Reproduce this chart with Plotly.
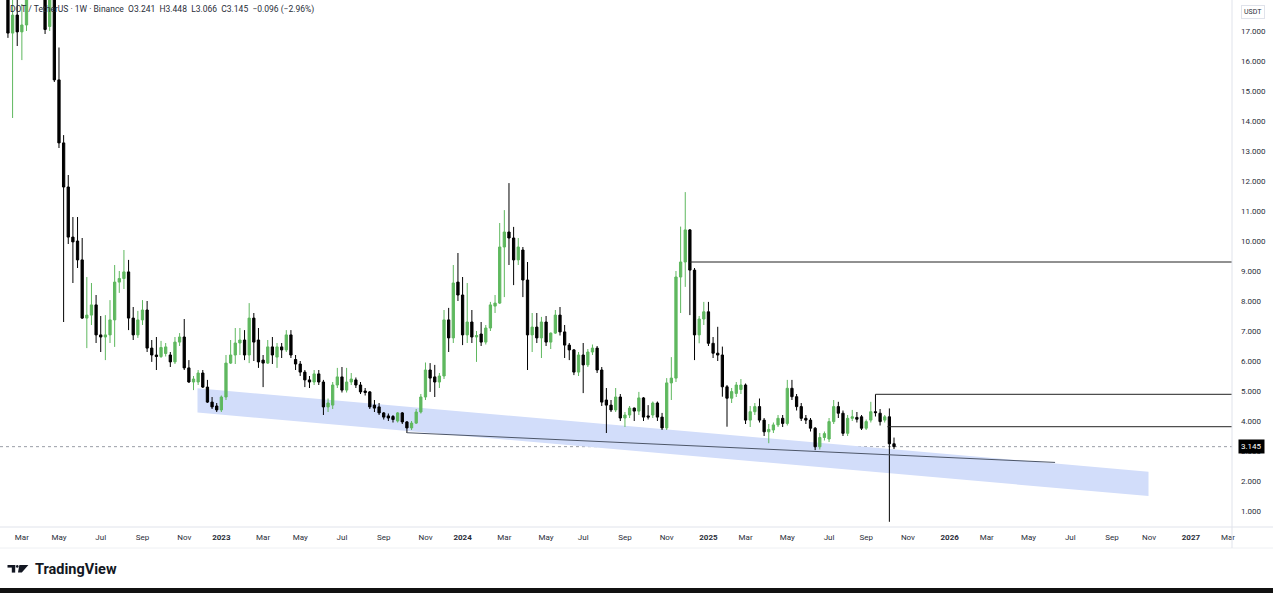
import plotly.graph_objects as go
import pandas as pd

# ---------------- data ----------------
open_ = [19.4, 16.93, 17.53, 16.97, 17.2, 19.2, 21.3, 21.1, 19.3, 17.15,
         18.4, 15.37, 13.27, 11.8, 10.13, 10.0, 9.37, 7.43, 7.53, 7.87,
         6.87, 6.8, 6.87, 7.37, 8.63, 8.75, 8.97, 7.43, 6.87, 7.37,
         7.7, 6.43, 6.2, 6.15, 6.25, 6.2, 5.97, 6.63, 6.8, 5.77,
         5.3, 5.3, 5.6, 5.13, 4.63, 4.5, 4.37, 4.8, 5.93, 6.2,
         6.6, 6.7, 6.2, 7.43, 6.7, 6.03, 5.93, 6.47, 6.13, 6.47,
         6.37, 6.87, 6.05, 5.9, 5.63, 5.37, 5.3, 5.57, 5.3, 4.47,
         4.53, 5.2, 5.47, 5.03, 5.3, 5.37, 5.2, 5.0, 4.97, 4.53,
         4.47, 4.27, 4.17, 4.15, 4.0, 4.27, 3.97, 3.77, 3.93, 4.3,
         4.8, 5.7, 5.47, 5.3, 5.5, 7.37, 6.77, 8.63, 8.2, 6.87,
         7.3, 6.8, 6.9, 6.63, 7.1, 7.83, 7.93, 9.8, 10.3, 10.1,
         9.37, 9.7, 8.7, 6.87, 7.13, 6.77, 7.3, 6.63, 6.93, 7.53,
         6.97, 6.53, 6.37, 5.63, 6.2, 5.87, 6.3, 6.43, 5.7, 4.7,
         4.53, 4.37, 4.8, 4.1, 4.2, 4.43, 4.33, 4.77, 4.17, 4.2,
         4.6, 4.13, 3.77, 5.27, 5.43, 8.8, 9.3, 10.37, 9.03, 6.87,
         7.4, 7.64, 6.59, 6.26, 6.2, 5.14, 4.76, 4.92, 5.05, 5.2,
         4.03, 4.31, 4.48, 4.03, 3.64, 3.7, 3.87, 4.09, 3.92, 5.09,
         4.81, 4.48, 4.09, 4.03, 3.76, 3.14, 3.45, 3.4, 3.98, 4.48,
         4.26, 3.59, 4.09, 4.12, 4.14, 3.76, 4.03, 4.31, 4.26, 4.03,
         4.14, 3.241]
high = [20.2, 18.4, 18.2, 17.9, 19.6, 21.8, 23.4, 21.5, 19.6, 18.8,
        18.6, 16.45, 13.53, 12.2, 10.8, 10.8, 10.1, 8.8, 8.6, 8.2,
        7.5, 7.53, 8.03, 9.2, 9.0, 9.7, 9.37, 7.8, 7.67, 8.03,
        8.0, 6.7, 6.8, 6.67, 6.6, 6.3, 6.8, 6.93, 7.4, 6.03,
        5.5, 5.7, 5.7, 5.37, 4.8, 4.6, 4.85, 6.2, 6.7, 7.1,
        7.1, 7.03, 7.93, 7.6, 7.1, 6.2, 6.7, 6.8, 6.6, 6.6,
        7.03, 7.03, 6.2, 6.0, 5.7, 5.5, 5.7, 5.7, 5.37, 4.75,
        5.3, 5.77, 5.8, 5.77, 5.6, 5.45, 5.3, 5.1, 5.0, 4.7,
        4.6, 4.3, 4.25, 4.2, 4.3, 4.3, 4.0, 4.0, 4.4, 4.9,
        5.95, 5.93, 5.87, 5.6, 7.7, 7.77, 9.2, 9.6, 8.8, 8.6,
        7.7, 7.0, 7.3, 7.2, 7.97, 8.2, 10.6, 11.03, 11.93, 10.47,
        10.1, 9.8, 9.3, 7.6, 7.6, 7.47, 7.5, 6.95, 7.7, 7.8,
        7.2, 6.6, 6.4, 6.3, 6.6, 6.4, 6.55, 6.5, 5.8, 5.1,
        4.7, 5.1, 4.9, 4.3, 4.5, 4.45, 4.97, 4.8, 4.53, 4.65,
        4.65, 4.27, 5.43, 6.13, 9.0, 10.48, 11.63, 10.4, 9.1, 7.5,
        7.97, 7.97, 6.8, 7.14, 6.48, 5.2, 5.1, 5.3, 5.4, 5.25,
        4.5, 4.6, 4.75, 4.1, 3.9, 3.95, 4.2, 4.2, 5.37, 5.37,
        4.9, 4.6, 4.2, 4.1, 3.8, 3.6, 3.65, 4.1, 4.7, 4.64,
        4.35, 4.2, 4.37, 4.3, 4.2, 4.05, 4.64, 4.89, 4.4, 4.2,
        4.42, 3.448]
low = [16.77, 14.1, 16.5, 16.03, 17.0, 18.6, 20.4, 18.3, 16.9, 17.0,
       15.3, 13.1, 7.3, 9.9, 8.6, 9.1, 7.4, 6.43, 7.2, 6.6,
       6.3, 6.03, 6.6, 6.47, 8.27, 8.4, 7.03, 6.7, 6.77, 7.2,
       6.3, 5.97, 5.7, 6.1, 6.15, 5.8, 5.9, 6.5, 5.7, 5.27,
       5.03, 5.2, 5.1, 4.6, 4.4, 4.3, 4.3, 4.7, 5.9, 5.9,
       6.2, 6.03, 5.93, 6.0, 5.77, 5.13, 5.9, 5.9, 5.77, 6.1,
       6.3, 6.1, 5.7, 5.5, 5.13, 5.1, 5.2, 5.2, 4.2, 4.3,
       4.4, 5.1, 4.95, 4.95, 5.2, 5.1, 4.9, 4.85, 4.4, 4.3,
       4.2, 4.05, 4.0, 3.95, 3.95, 3.9, 3.6, 3.7, 3.9, 4.25,
       4.7, 4.97, 4.8, 5.1, 5.4, 6.3, 6.6, 8.0, 6.53, 6.6,
       6.6, 5.97, 6.5, 6.55, 7.0, 7.6, 7.9, 8.13, 9.2, 8.53,
       9.2, 8.13, 5.7, 6.3, 6.6, 6.1, 6.5, 6.4, 6.9, 6.85,
       6.1, 6.03, 5.53, 5.5, 4.93, 5.8, 6.2, 5.6, 4.5, 3.6,
       4.3, 4.3, 4.0, 3.8, 4.1, 4.0, 4.2, 4.0, 4.05, 4.1,
       4.0, 3.7, 3.7, 4.7, 5.3, 7.6, 8.47, 7.53, 6.03, 6.59,
       7.2, 6.5, 6.1, 6.0, 4.81, 3.81, 4.6, 4.8, 4.9, 3.9,
       3.8, 4.2, 3.95, 3.5, 3.26, 3.6, 3.8, 3.8, 3.85, 4.7,
       4.35, 4.0, 3.9, 3.65, 3.03, 3.05, 3.35, 3.3, 3.9, 4.1,
       3.5, 3.5, 4.0, 3.95, 3.7, 3.7, 3.95, 4.15, 3.85, 3.95,
       0.64, 3.066]
close = [16.93, 17.53, 16.97, 17.2, 19.2, 21.3, 21.1, 19.3, 17.05, 18.4,
         15.37, 13.27, 11.8, 10.13, 9.97, 9.37, 7.43, 7.53, 7.87, 6.87,
         6.8, 6.87, 7.37, 8.63, 8.75, 8.97, 7.43, 6.87, 7.37, 7.7,
         6.43, 6.2, 6.15, 6.45, 6.47, 5.97, 6.63, 6.8, 5.77, 5.3,
         5.4, 5.6, 5.13, 4.63, 4.47, 4.37, 4.8, 5.93, 6.2, 6.6,
         6.7, 6.2, 7.43, 6.63, 5.97, 5.93, 6.47, 6.2, 6.47, 6.37,
         6.87, 6.2, 5.9, 5.63, 5.37, 5.3, 5.57, 5.3, 4.47, 4.6,
         5.2, 5.47, 5.03, 5.3, 5.4, 5.2, 4.97, 4.95, 4.47, 4.43,
         4.27, 4.13, 4.1, 4.05, 4.27, 3.97, 3.77, 3.93, 4.3, 4.8,
         5.7, 5.43, 5.3, 5.5, 7.37, 6.77, 8.6, 8.2, 6.87, 7.3,
         6.8, 6.85, 6.63, 7.1, 7.87, 7.93, 9.8, 10.3, 10.1, 9.37,
         9.8, 8.7, 6.87, 7.13, 6.77, 7.3, 6.63, 6.93, 7.53, 6.97,
         6.53, 6.37, 5.63, 6.2, 5.87, 6.3, 6.43, 5.7, 4.63, 4.53,
         4.37, 4.8, 4.1, 4.2, 4.43, 4.33, 4.77, 4.13, 4.13, 4.6,
         4.13, 3.77, 5.27, 5.43, 8.8, 9.3, 10.37, 9.03, 6.87, 7.4,
         7.64, 6.59, 6.26, 6.2, 5.14, 4.76, 4.98, 5.2, 5.2, 4.03,
         4.31, 4.48, 4.03, 3.64, 3.72, 3.87, 4.09, 3.92, 5.09, 4.81,
         4.48, 4.09, 4.03, 3.76, 3.14, 3.45, 3.58, 3.98, 4.48, 4.26,
         3.59, 4.09, 4.14, 4.06, 3.76, 3.98, 4.31, 4.28, 3.98, 4.14,
         3.241, 3.145]
first_week = "2022-02-14"
weeks = pd.date_range(first_week, periods=len(close), freq="7D")

# drawings
band_dates = ["2022-11-27", "2026-11-01"]
band_upper = [5.09, 2.31]
band_lower = [4.28, 1.50]
trend_dates = ["2023-10-09", "2026-06-13"]
trend_values = [3.61, 2.62]
level_values = [9.30, 4.89, 3.81]
level_starts = ["2024-12-09", "2025-09-15", "2025-10-03"]
last_price = 3.145

x_range = ["2022-02-02", "2027-03-07"]
y_range = [0.467, 18.033]

tick_dates = ["2022-03-07", "2022-05-02", "2022-07-04", "2022-09-05", "2022-11-07",
              "2023-01-02", "2023-03-06", "2023-05-01", "2023-07-03", "2023-09-04", "2023-11-06",
              "2024-01-01", "2024-03-04", "2024-05-06", "2024-07-01", "2024-09-02", "2024-11-04",
              "2025-01-06", "2025-03-03", "2025-05-05", "2025-07-07", "2025-09-01", "2025-11-03",
              "2026-01-05", "2026-03-02", "2026-05-04", "2026-07-06", "2026-09-07", "2026-11-02",
              "2027-01-04", "2027-03-01"]
tick_labels = ["Mar", "May", "Jul", "Sep", "Nov",
               "<b>2023</b>", "Mar", "May", "Jul", "Sep", "Nov",
               "<b>2024</b>", "Mar", "May", "Jul", "Sep", "Nov",
               "<b>2025</b>", "Mar", "May", "Jul", "Sep", "Nov",
               "<b>2026</b>", "Mar", "May", "Jul", "Sep", "Nov",
               "<b>2027</b>", "Mar"]
price_ticks = list(range(1, 18))
price_labels = ["%d.000" % v for v in price_ticks]

header = "DOT / TetherUS · 1W · Binance  O3.241  H3.448  L3.066  C3.145  −0.096 (−2.96%)"

# ---------------- figure ----------------
W, H = 1273, 593
ML, MR, MT, MB = 0, 41, 0, 66
PW, PH = W - ML - MR, H - MT - MB

def px(x):
    return x / PW

def py(y):
    return (PH - y) / PH

GREEN = "#5fb85f"
BLACK = "#000000"
FONT = "Roboto"

fig = go.Figure()

fig.add_trace(go.Candlestick(
    x=weeks, open=open_, high=high, low=low, close=close,
    increasing=dict(line=dict(color=GREEN, width=1), fillcolor=GREEN),
    decreasing=dict(line=dict(color=BLACK, width=1), fillcolor=BLACK),
    whiskerwidth=0, hoverinfo="skip", showlegend=False))

fig.add_trace(go.Scatter(
    x=trend_dates, y=trend_values, mode="lines",
    line=dict(color="#4d5668", width=1), hoverinfo="skip", showlegend=False))

for lv, ls in zip(level_values, level_starts):
    fig.add_trace(go.Scatter(
        x=[ls, x_range[1]], y=[lv, lv], mode="lines",
        line=dict(color="#222222", width=1), hoverinfo="skip", showlegend=False))

band_path = "M {0},{2} L {0},{3} L {1},{5} L {1},{4} Z".format(
    band_dates[0], band_dates[1], band_upper[0], band_lower[0], band_upper[1], band_lower[1])

shapes = [
    dict(type="path", xref="x", yref="y", path=band_path, layer="below",
         fillcolor="#d2ddfa", line=dict(width=0)),
    dict(type="line", xref="paper", yref="y", x0=0, x1=1, y0=last_price, y1=last_price,
         layer="below", line=dict(color="#9a9da6", width=1, dash="dot")),
    # axis borders
    dict(type="line", xref="paper", yref="paper", x0=0, x1=W / PW, y0=0, y1=0,
         line=dict(color="#e0e3eb", width=1)),
    dict(type="line", xref="paper", yref="paper", x0=0, x1=W / PW, y0=py(548), y1=py(548),
         line=dict(color="#eef0f3", width=1)),
    dict(type="line", xref="paper", yref="paper", x0=1, x1=1, y0=py(548), y1=1,
         line=dict(color="#e0e3eb", width=1)),
    # bottom black strip
    dict(type="rect", xref="paper", yref="paper", x0=-0.01, x1=W / PW + 0.01,
         y0=py(594), y1=py(588), fillcolor="#111111", line=dict(width=0)),
    # TradingView logo
    dict(type="rect", xref="paper", yref="paper", x0=px(7.5), x1=px(15.2),
         y0=py(567.6), y1=py(565), fillcolor="#131722", line=dict(width=0)),
    dict(type="rect", xref="paper", yref="paper", x0=px(11.8), x1=px(15.2),
         y0=py(572.6), y1=py(565), fillcolor="#131722", line=dict(width=0)),
    dict(type="circle", xref="paper", yref="paper", x0=px(16), x1=px(18.6),
         y0=py(567.8), y1=py(565), fillcolor="#131722", line=dict(width=0)),
    dict(type="path", xref="paper", yref="paper",
         path="M %f %f L %f %f L %f %f L %f %f Z" % (
             px(19.4), py(565), px(28.4), py(565), px(21.8), py(572.6), px(18.0), py(572.6)),
         fillcolor="#131722", line=dict(width=0)),
]

annotations = [
    dict(text=header, xref="paper", yref="paper", x=px(8), y=py(9.5),
         xanchor="left", yanchor="middle", showarrow=False,
         font=dict(family=FONT, size=8.5, color="#2a2e39")),
    dict(text="USDT", xref="paper", yref="paper", x=px(1252.5), y=py(12),
         xanchor="center", yanchor="middle", showarrow=False,
         bordercolor="#e0e3eb", borderwidth=1, borderpad=2,
         font=dict(family=FONT, size=7, color="#2a2e39")),
    dict(text="3.145", xref="paper", yref="y", x=px(1251), y=last_price,
         xanchor="center", yanchor="middle", showarrow=False,
         bgcolor="#000000", borderpad=2,
         font=dict(family=FONT, size=8, color="#ffffff")),
    dict(text="<b>TradingView</b>", xref="paper", yref="paper", x=px(33), y=py(569.5),
         xanchor="left", yanchor="middle", showarrow=False,
         font=dict(family=FONT, size=14.5, color="#131722")),
]

fig.update_layout(
    width=W, height=H,
    margin=dict(l=ML, r=MR, t=MT, b=MB),
    paper_bgcolor="#ffffff", plot_bgcolor="#ffffff",
    showlegend=False, hovermode=False,
    shapes=shapes, annotations=annotations,
    font=dict(family=FONT, color="#2a2e39"),
    xaxis=dict(type="date", range=x_range, rangeslider=dict(visible=False),
               showgrid=False, zeroline=False, showline=False,
               tickmode="array", tickvals=tick_dates, ticktext=tick_labels,
               ticks="", ticklabelstandoff=4,
               tickfont=dict(family=FONT, size=8, color="#2a2e39")),
    yaxis=dict(range=y_range, side="right", showgrid=False, zeroline=False,
               showline=False, tickmode="array", tickvals=price_ticks,
               ticktext=price_labels, ticks="", ticklabelstandoff=8,
               tickfont=dict(family=FONT, size=8, color="#2a2e39")),
)

fig.write_html("out.html", config={"displayModeBar": False},
               post_script="document.body.style.margin='0px';")
